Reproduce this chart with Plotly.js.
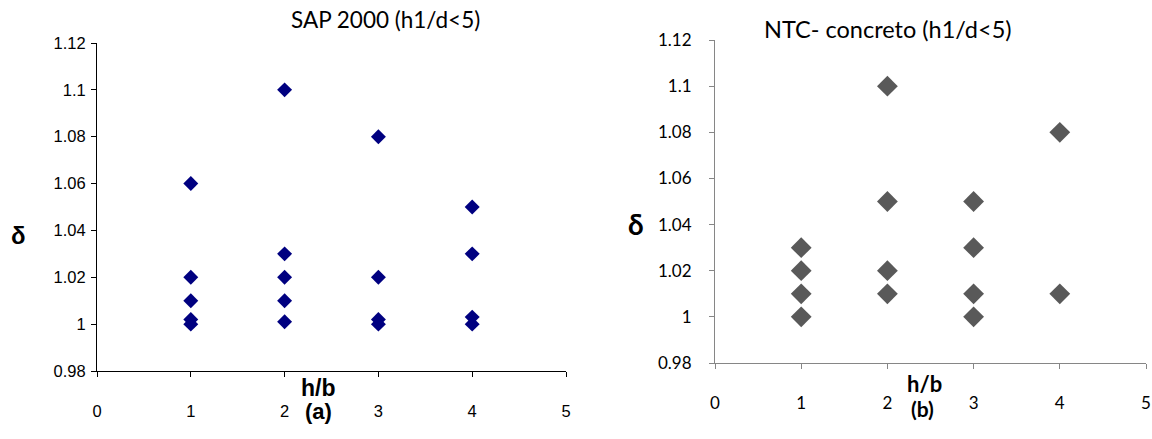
<!DOCTYPE html>
<html><head><meta charset="utf-8">
<script src="https://cdn.plot.ly/plotly-3.0.1.min.js"></script>
<style>html,body{margin:0;padding:0;background:#fff}#c{width:1152px;height:439px}</style>
</head><body><div id="c"></div>
<script>
const sapX = [1,1,1,1,1, 2,2,2,2,2, 3,3,3,3, 4,4,4,4];
const sapY = [1.06,1.02,1.01,1.002,1.0, 1.1,1.03,1.02,1.01,1.001, 1.08,1.02,1.002,1.0, 1.05,1.03,1.003,1.0];
const ntcX = [1,1,1,1, 2,2,2,2, 3,3,3,3, 4,4];
const ntcY = [1.03,1.02,1.01,1.0, 1.1,1.05,1.02,1.01, 1.05,1.03,1.01,1.0, 1.08,1.01];
const xTicks = [0,1,2,3,4,5];
const yTicks = [0.98,1,1.02,1.04,1.06,1.08,1.1,1.12];
const yTickText = ['0.98','1','1.02','1.04','1.06','1.08','1.1','1.12'];
const titleA = 'SAP 2000 (h1/d<5)';
const titleB = 'NTC- concreto (h1/d<5)';

const W = 1152, H = 439;
const traces = [
  {x: sapX, y: sapY, type:'scatter', mode:'markers', xaxis:'x', yaxis:'y',
   marker:{symbol:'diamond', size:11.5, color:'#000080'}},
  {x: ntcX, y: ntcY, type:'scatter', mode:'markers', xaxis:'x2', yaxis:'y2',
   marker:{symbol:'diamond', size:16, color:'#595959'}}
];
const ARIAL = 'Liberation Sans, Arial, sans-serif';
const CAL = 'Lato, Open Sans, sans-serif';
const fa = {family:ARIAL, size:16.5, color:'#000'};
const fb = {family:CAL, size:17, color:'#000'};
function ax(dom, range, vals, text, font, lc, anchor, standoff){
  return {domain:dom, range:range, tickvals:vals, ticktext:text, showgrid:false, zeroline:false,
    showline:true, linecolor:lc, linewidth:1, ticks:'outside', ticklen:5, tickcolor:lc,
    tickfont:font, anchor:anchor, fixedrange:true, ticklabelstandoff:standoff, ticklabeloverflow:'allow'};
}
function ann(text, x, y, family, size){
  return {text:text, xref:'paper', yref:'paper', x:x/W, y:1-y/H, xanchor:'center', yanchor:'middle',
    showarrow:false, font:{family:family, size:size, color:'#000'}};
}
const layout = {
  width:W, height:H, margin:{l:0,r:0,t:0,b:0}, showlegend:false,
  paper_bgcolor:'#fff', plot_bgcolor:'#fff',
  xaxis: ax([97/W, 566/W], [0,5], xTicks, xTicks.map(String), fa, '#000', 'y', 20),
  yaxis: ax([1-371/H, 1-43/H], [0.98,1.12], yTicks, yTickText, fa, '#000', 'x', 2),
  xaxis2: ax([715/W, 1146/W], [0,5], xTicks, xTicks.map(String), fb, '#868686', 'y2', 20),
  yaxis2: ax([1-363/H, 1-40/H], [0.98,1.12], yTicks, yTickText, fb, '#868686', 'x2', 14),
  annotations:[
    ann(titleA, 385, 20, CAL, 22.5),
    ann(titleB, 888, 29, CAL, 23.5),
    ann('<b>δ</b>', 18, 235, ARIAL, 24),
    ann('<b>h/b</b>', 318, 388, ARIAL, 23),
    ann('<b>(a)</b>', 318, 411, ARIAL, 22),
    ann('<b>δ</b>', 636, 224, CAL, 28),
    ann('<b>h/b</b>', 924, 383, CAL, 22),
    ann('<b>(b)</b>', 922, 408, CAL, 21)
  ]
};
Plotly.newPlot('c', traces, layout, {staticPlot:true, displayModeBar:false});
</script></body></html>
